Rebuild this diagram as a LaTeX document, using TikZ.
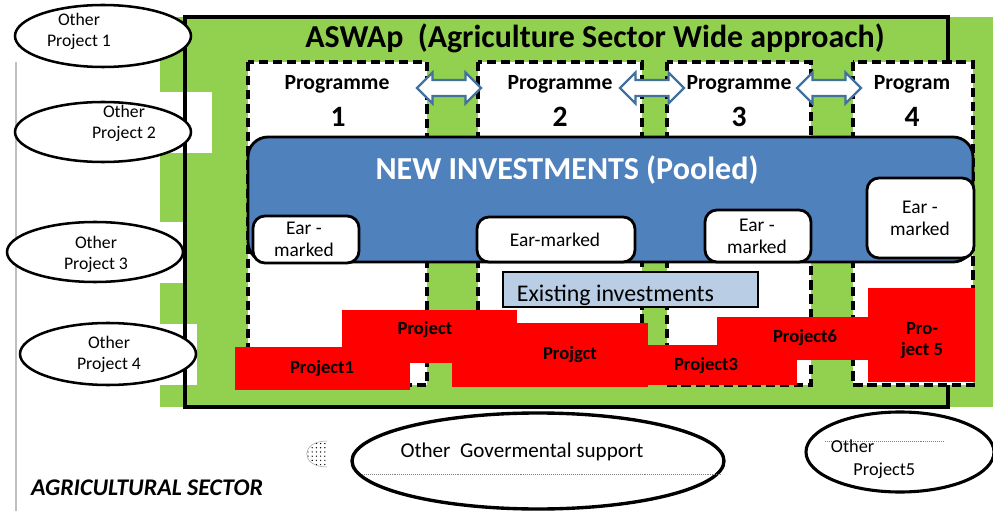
\documentclass[tikz,border=0pt]{standalone}
\usepackage{fontspec}
\setmainfont{Carlito}
\usetikzlibrary{shapes.geometric,shapes.arrows,patterns}
\definecolor{aswgreen}{HTML}{92D050}
\definecolor{poolblue}{HTML}{4F81BD}
\definecolor{arrowblue}{HTML}{41719C}
\definecolor{existblue}{HTML}{B9CDE5}

\begin{document}
\begin{tikzpicture}[
x=0.025cm, y=-0.025cm,
column/.style={line width=2.2pt,dash pattern=on 6.5pt off 3.5pt,fill=white},
pooled/.style={draw=black,line width=2pt,fill=poolblue,rounded corners=0.5cm},
earbox/.style={draw=black,line width=2pt,fill=white,rounded corners=0.3cm},
eartext/.style={align=center,font=\fontsize{13.8}{15.5}\selectfont},
progtext/.style={font=\bfseries\fontsize{15.4}{18}\selectfont},
numtext/.style={font=\bfseries\fontsize{21}{24}\selectfont},
swap/.style={double arrow,draw=arrowblue,fill=white,line width=1.6pt,inner xsep=0pt,inner ysep=0.17cm,double arrow head extend=0.19cm,minimum height=1.6cm},
blob/.style={fill=red,draw=none},
blobtext/.style={align=center,font=\bfseries\fontsize{13.2}{15}\selectfont},
other/.style={draw=black,line width=1.8pt,fill=white},
othertext/.style={align=center,font=\fontsize{12.6}{15}\selectfont}
]
    \useasboundingbox (0,0) rectangle (993,511);

    % Green sector area
    \fill[aswgreen] (160,17) rectangle (993,407);
    \fill[white] (158,92) rectangle (212,153);
    \fill[white] (158,222) rectangle (185,283);
    \fill[white] (158,324) rectangle (197,385);

    % Grey line on the left
    \draw[gray!50, line width=1.4pt] (16,62) -- (16,511);

    % ASWAp frame
    \draw[line width=3.5pt] (185,17) rectangle (948,407);
    \node[font=\bfseries\fontsize{22.7}{26}\selectfont] (title) at (595,38)
        {ASWAp\ \ (Agriculture Sector Wide approach)};

    % Programme columns
    \draw[column] (248,62) rectangle (427,385);
    \draw[column] (478,62) rectangle (642,385);
    \draw[column] (667,62) rectangle (811,385);
    \draw[column] (853,62) rectangle (973,385);

    \node[progtext] (prog1) at (337,84) {Programme};
    \node[progtext] (prog2) at (560,84) {Programme};
    \node[progtext] (prog3) at (739,84) {Programme};
    \node[progtext] (prog4) at (912,84) {Program};
    \node[numtext] (num1) at (338,117) {1};
    \node[numtext] (num2) at (560,117) {2};
    \node[numtext] (num3) at (739,117) {3};
    \node[numtext] (num4) at (912,117) {4};

    \node[swap] (swap12) at (449,88) {};
    \node[swap] (swap23) at (652,88) {};
    \node[swap] (swap34) at (829,88) {};

    % Pooled investments
    \draw[pooled] (248,137) rectangle (973,262);
    \node[white, font=\bfseries\fontsize{22.8}{26}\selectfont] (pool) at (567,170)
        {NEW INVESTMENTS (Pooled)};

    \draw[earbox] (253,216) rectangle (359,263);
    \draw[earbox] (477,217) rectangle (635,262);
    \draw[earbox] (705,210) rectangle (811,262);
    \draw[earbox] (867,178) rectangle (974,258);
    \node[eartext] (ear1) at (304,239) {Ear -\\marked};
    \node[eartext] (ear2) at (555,240) {Ear-marked};
    \node[eartext] (ear3) at (757,236) {Ear -\\marked};
    \node[eartext] (ear4) at (920,218) {Ear -\\marked};

    % Existing investments
    \draw[fill=existblue, line width=1.8pt] (503,272) rectangle (758,307);
    \node[anchor=west, font=\fontsize{17}{20}\selectfont] (exist) at (512,295)
        {Existing investments};

    % Projects
    \fill[blob] (235,347) rectangle (410,390);
    \fill[blob] (342,310) rectangle (517,363);
    \fill[blob] (452,323) rectangle (648,387);
    \fill[blob] (640,345) rectangle (797,385);
    \fill[blob] (717,317) rectangle (868,360);
    \fill[blob] (868,288) rectangle (975,382);
    \node[blobtext] (proj1) at (322,369) {Project1};
    \node[blobtext] (proj2) at (425,330) {Project};
    \node[blobtext] (projg) at (570,355) {Projgct};
    \node[blobtext] (proj3) at (706,366) {Project3};
    \node[blobtext] (proj6) at (805,338) {Project6};
    \node[blobtext] (proj5) at (922,341) {Pro-\\ject 5};

    % Other projects
    \draw[other] (103,36) ellipse (88 and 31);
    \draw[other] (103,132) ellipse (88 and 30);
    \draw[other] (95,252) ellipse (88 and 30);
    \draw[other] (108,354) ellipse (88 and 31);
    \node[othertext] (other1) at (79,31) {Other\\Project 1};
    \node[othertext] (other2) at (124,123) {Other\\Project 2};
    \node[othertext] (other3) at (96,254) {Other\\Project 3};
    \node[othertext] (other4) at (109,354) {Other\\Project 4};

    \draw[other, line width=2.4pt] (538,461) ellipse (186 and 48);
    \draw[gray, densely dotted] (362,474) -- (722,474);
    \node[font=\fontsize{15}{18}\selectfont] (gov) at (522,452) {Other\ \ Govermental support};
    \draw[gray!70, pattern=dots] (327,441) .. controls (300,441) and (300,467) .. (327,467);

    \draw[other, line width=2.2pt] (900,452) ellipse (94 and 40);
    \draw[gray, densely dotted] (825,441) -- (945,441);
    \node[anchor=west, align=left, font=\fontsize{13}{16}\selectfont] (other5) at (826,459)
        {Other\\\hspace*{16pt}Project5};

    % Sector label
    \node[font=\bfseries\itshape\fontsize{17}{20}\selectfont] (sector) at (147,488)
        {AGRICULTURAL SECTOR};
\end{tikzpicture}
\end{document}
